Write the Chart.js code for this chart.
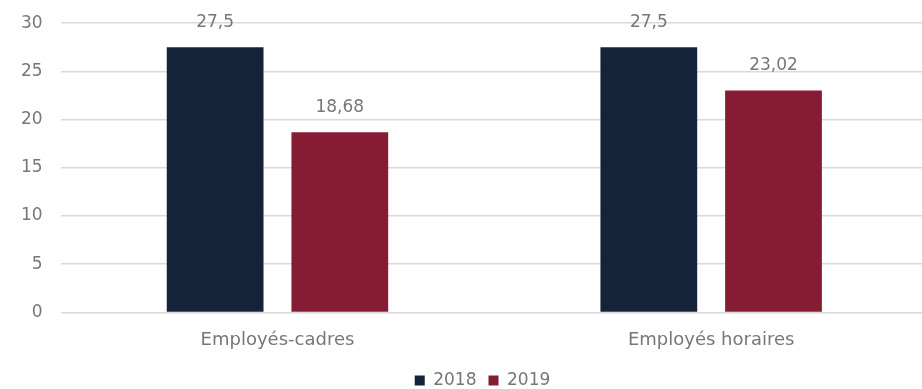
<!DOCTYPE html>
<html>
<head>
<meta charset="utf-8">
<script src="https://cdn.jsdelivr.net/npm/chart.js@4"></script>
<style>
  html, body { margin: 0; padding: 0; background: #fff; overflow: hidden; }
  #wrap { width: 928px; height: 404px; margin-top: -5px; }
</style>
</head>
<body>
<div id="wrap"><canvas id="bars"></canvas></div>
<script>
const categories = ['Employés-cadres', 'Employés horaires'];
const years = ['2018', '2019'];
const values2018 = [27.5, 27.5];
const values2019 = [18.68, 23.02];
const yTicks = [0, 5, 10, 15, 20, 25, 30];

const navy = '#14233a';
const maroon = '#861c33';
const textGrey = '#777777';
const font = '"DejaVu Sans", sans-serif';

// writes the value over each bar, with a french decimal comma
const valueLabels = {
  id: 'valueLabels',
  afterDatasetsDraw(chart) {
    const ctx = chart.ctx;
    ctx.save();
    ctx.font = '17px ' + font;
    ctx.fillStyle = textGrey;
    ctx.textAlign = 'center';
    ctx.textBaseline = 'middle';
    chart.data.datasets.forEach(function(ds, i) {
      chart.getDatasetMeta(i).data.forEach(function(bar, j) {
        const txt = String(ds.data[j]).replace('.', ',');
        ctx.fillText(txt, bar.x, bar.y - 25);
      });
    });
    ctx.restore();
  }
};

// legend sits a bit right of centre
const legendShift = {
  id: 'legendShift',
  afterLayout(chart) {
    chart.legend.left += 17;
    chart.legend.right += 17;
  }
};

const config = {
  type: 'bar',
  data: {
    labels: categories,
    datasets: [
      { label: years[0], data: values2018, backgroundColor: navy,
        categoryPercentage: 0.575, barPercentage: 0.776 },
      { label: years[1], data: values2019, backgroundColor: maroon,
        categoryPercentage: 0.575, barPercentage: 0.776 }
    ]
  },
  options: {
    responsive: true,
    maintainAspectRatio: false,
    animation: false,
    layout: { padding: { top: 1, right: 0, left: 3, bottom: 0 } },
    plugins: {
      tooltip: { enabled: false },
      legend: {
        position: 'bottom',
        labels: {
          boxWidth: 10, boxHeight: 10, padding: 12,
          color: textGrey,
          font: { family: font, size: 17 }
        }
      }
    },
    scales: {
      x: {
        grid: { display: false },
        border: { display: false },
        ticks: { color: textGrey, padding: 9, font: { family: font, size: 18 } }
      },
      y: {
        min: 0, max: 30,
        afterBuildTicks(axis) { axis.ticks = yTicks.map(v => ({ value: v })); },
        grid: { color: '#d9d9d9', lineWidth: 1.5, drawTicks: false },
        border: { display: false },
        ticks: { color: textGrey, padding: 18, font: { family: font, size: 17 } }
      }
    }
  },
  plugins: [valueLabels, legendShift]
};

new Chart(document.getElementById('bars'), config);
</script>
</body>
</html>
